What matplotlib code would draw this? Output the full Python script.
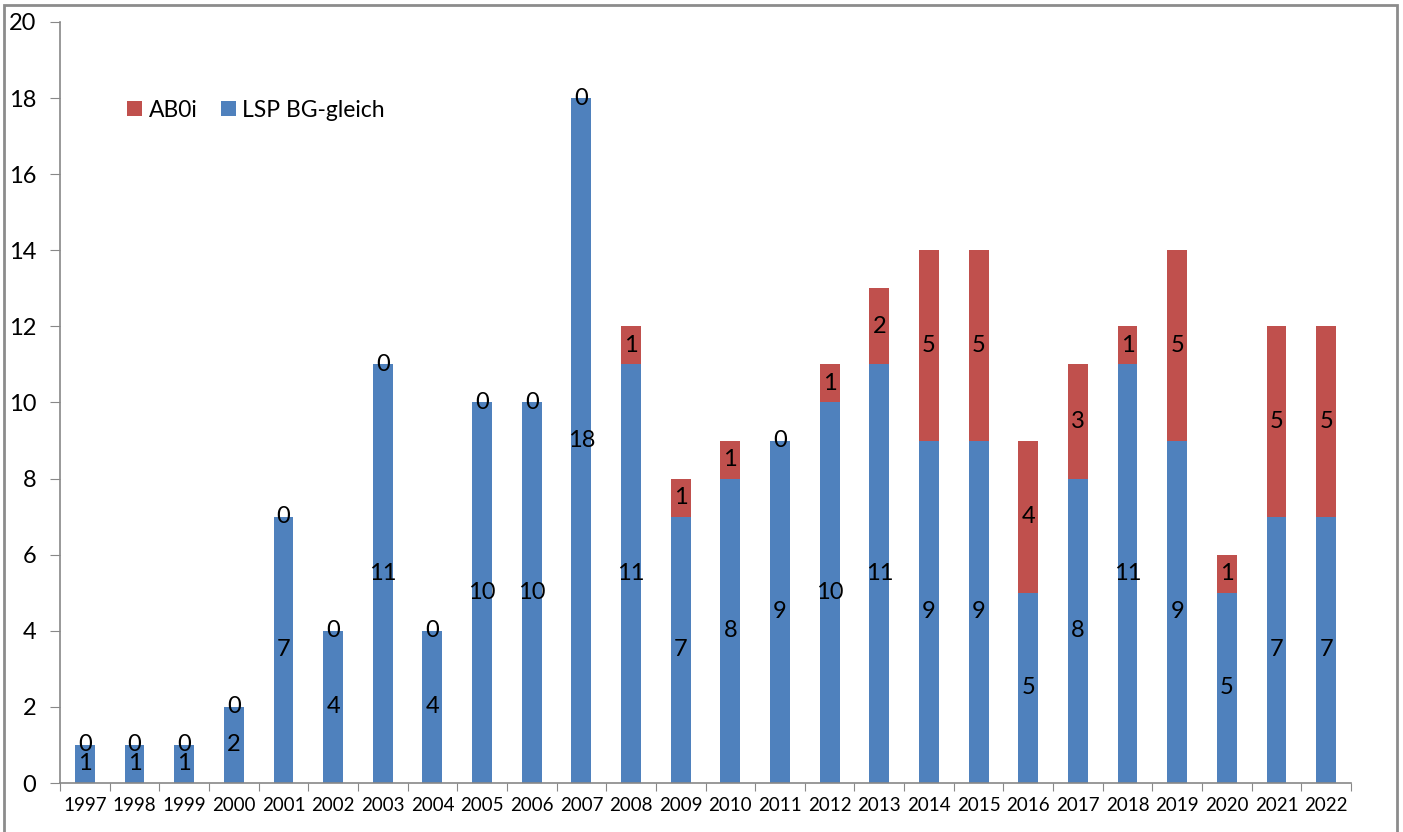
import matplotlib.pyplot as plt
import numpy as np
from matplotlib.patches import Rectangle

plt.rcParams['font.family'] = ['Lato', 'DejaVu Sans']

years = [str(y) for y in range(1997, 2023)]
lsp = [1, 1, 1, 2, 7, 4, 11, 4, 10, 10, 18, 11, 7, 8, 9, 10, 11, 9, 9, 5, 8, 11, 9, 5, 7, 7]
ab0i = [0, 0, 0, 0, 0, 0, 0, 0, 0, 0, 0, 1, 1, 1, 0, 1, 2, 5, 5, 4, 3, 1, 5, 1, 5, 5]

blue = '#4F81BD'
red = '#C0504D'

fig = plt.figure(figsize=(14.03, 8.32), dpi=100)
ax = fig.add_axes([60 / 1403, 49 / 832, 1291 / 1403, 761 / 832])

x = np.arange(len(years))
w = 0.4
b1 = ax.bar(x, lsp, w, color=blue, linewidth=0, label='LSP BG-gleich')
b2 = ax.bar(x, ab0i, w, bottom=lsp, color=red, linewidth=0, label='AB0i')

# value labels in the middle of each segment
for i in range(len(years)):
    ax.text(x[i], lsp[i] / 2, str(lsp[i]), ha='center', va='center', fontsize=17)
    ax.text(x[i], lsp[i] + ab0i[i] / 2, str(ab0i[i]), ha='center', va='center', fontsize=17)

ax.set_xlim(-0.5, len(years) - 0.5)
ax.set_ylim(0, 20)
ax.set_yticks(range(0, 21, 2))
ax.tick_params(axis='y', labelsize=17, length=7, color='#888888', pad=10)

# year labels between boundary ticks
ax.set_xticks(np.arange(-0.5, len(years), 1.0))
ax.set_xticklabels([])
ax.set_xticks(x, minor=True)
ax.set_xticklabels(years, minor=True, fontsize=13.5)
ax.tick_params(axis='x', which='major', length=6, color='#888888')
ax.tick_params(axis='x', which='minor', length=0, pad=10)

for s in ['top', 'right']:
    ax.spines[s].set_visible(False)
for s in ['left', 'bottom']:
    ax.spines[s].set_color('#888888')
    ax.spines[s].set_linewidth(1.2)

ax.legend(handles=[b2, b1], loc='center left', bbox_to_anchor=(0.045, 0.884),
          ncol=2, frameon=False, fontsize=16.5, handlelength=0.65, handleheight=0.65,
          handletextpad=0.3, columnspacing=1.0, borderaxespad=0)

# outer chart border
fig.patches.append(Rectangle((4 / 1403, -0.05), 1393 / 1403, 0.05 + 827 / 832,
                             transform=fig.transFigure, fill=False,
                             edgecolor='#8C8C8C', linewidth=2))

fig.savefig('out.png', dpi=100)
